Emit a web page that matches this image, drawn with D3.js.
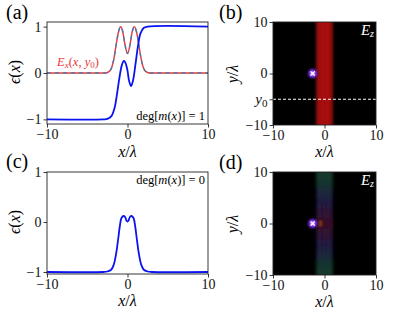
<!DOCTYPE html>
<html>
<head>
<meta charset="utf-8">
<script src="https://cdn.jsdelivr.net/npm/d3@7"></script>
<style>
  body { margin: 0; background: #fff; }
</style>
</head>
<body>
<div id="chart-area"></div>
<script>
// datos
const xTicks = [-10, 0, 10];
const epsTicks = [-1, 0, 1];

// (a) perfil de epsilon, deg = 1
const epsAx = [-10, -3, -2.5, -2.0, -1.6, -1.3, -1.0, -0.7, -0.45, -0.25, 0.0, 0.2, 0.45, 0.7, 1.0, 1.3, 1.6, 2.0, 2.5, 10];
const epsAy = [-1, -1, -0.99, -0.93, -0.75, -0.45, -0.1, 0.17, 0.26, 0.22, 0.05, -0.17, -0.28, -0.15, 0.2, 0.58, 0.85, 0.97, 1.0, 1.0];

// (a) campo E_x(x, y0)
const fieldX = [-10, -2.8, -2.3, -2.0, -1.7, -1.4, -1.1, -0.85, -0.6, -0.3, 0, 0.3, 0.6, 0.85, 1.1, 1.4, 1.7, 2.0, 2.3, 2.8, 10];
const fieldY = [0, 0, 0.03, 0.1, 0.3, 0.62, 0.9, 1.0, 0.9, 0.6, 0.42, 0.6, 0.9, 1.0, 0.9, 0.62, 0.3, 0.1, 0.03, 0, 0];

// (c) perfil de epsilon, deg = 0
const epsCx = [-10, -3, -2.5, -2.0, -1.7, -1.4, -1.15, -0.95, -0.75, -0.5, -0.3, -0.1, 0, 0.1, 0.3, 0.5, 0.75, 0.95, 1.15, 1.4, 1.7, 2.0, 2.5, 3, 10];
const epsCy = [-1, -1, -0.99, -0.95, -0.85, -0.62, -0.33, -0.08, 0.08, 0.12, 0.1, 0.02, 0.01, 0.02, 0.1, 0.12, 0.08, -0.08, -0.33, -0.62, -0.85, -0.95, -0.99, -1, -1];

// mapas de E_z: columnas en x
const colX = [-2.0, -1.75, -1.5, -1.25, -1.0, -0.75, -0.5, -0.25, 0, 0.25, 0.5, 0.75, 1.0, 1.25, 1.5, 1.75, 2.0];
const colB = [0.0, 0.1, 0.45, 0.75, 0.85, 0.75, 0.92, 0.88, 0.78, 0.88, 0.92, 0.78, 0.85, 0.75, 0.45, 0.12, 0.0];
const colD = [0.0, 0.1, 0.55, 0.8, 0.85, 0.8, 0.85, 0.85, 0.8, 0.85, 0.85, 0.8, 0.85, 0.8, 0.55, 0.1, 0.0];
// (d) bandas en y y su color
const bandY = [-10, -8, -6, -4, -2, 0, 2, 4, 6, 8, 10];
const bandColor = ["#1e4c3a", "#1d4439", "#21304a", "#282052", "#3c1842", "#4a1432", "#3c1842", "#282052", "#21304a", "#1d4439", "#1e4c3a"];

const sourceX = -2.3, sourceY = 0;
const y0 = -5;

const FONT = "Liberation Serif";
const width = 415, height = 320;
const svg = d3.select("#chart-area").append("svg")
  .attr("width", width).attr("height", height)
  .attr("font-family", FONT);

const defs = svg.append("defs");
const glow = defs.append("radialGradient").attr("id", "glow");
glow.append("stop").attr("offset", "0%").attr("stop-color", "#ecdcff");
glow.append("stop").attr("offset", "35%").attr("stop-color", "#9a50ff");
glow.append("stop").attr("offset", "70%").attr("stop-color", "#6020c0").attr("stop-opacity", 0.6);
glow.append("stop").attr("offset", "100%").attr("stop-color", "#300080").attr("stop-opacity", 0);
defs.append("filter").attr("id", "blurB").attr("x", "-50%").attr("width", "200%")
  .append("feGaussianBlur").attr("stdDeviation", "1.1 0");
defs.append("filter").attr("id", "blurD").attr("x", "-50%").attr("y", "-20%").attr("width", "200%").attr("height", "140%")
  .append("feGaussianBlur").attr("stdDeviation", "1.2 5");

function axesBox(g, x, y) {
  const [x0, x1] = x.range(), [yb, yt] = y.range();
  g.append("rect").attr("x", x0).attr("y", yt).attr("width", x1 - x0).attr("height", yb - yt)
    .attr("fill", "none").attr("stroke", "#222").attr("stroke-width", 0.9);
}

function ticks(g, x, y, yTicks, yFmt) {
  const ax = g.append("g").attr("transform", `translate(0,${y.range()[0]})`)
    .call(d3.axisBottom(x).tickValues(xTicks).tickSize(3.5).tickPadding(2).tickFormat(d => d < 0 ? "\u2212" + (-d) : d));
  const ay = g.append("g").attr("transform", `translate(${x.range()[0]},0)`)
    .call(d3.axisLeft(y).tickValues(yTicks).tickSize(3.5).tickPadding(2).tickFormat(yFmt));
  [ax, ay].forEach(a => {
    a.attr("font-family", FONT);
    a.select(".domain").remove();
    a.selectAll("line").attr("stroke", "#222").attr("stroke-width", 0.9);
    a.selectAll("text").attr("font-size", 14).attr("fill", "#111");
  });
  return ay;
}

function xLabel(g, x, yPos) {
  const t = g.append("text").attr("x", (x.range()[0] + x.range()[1]) / 2).attr("y", yPos)
    .attr("text-anchor", "middle").attr("font-size", 16);
  t.append("tspan").attr("font-style", "italic").text("x");
  t.append("tspan").text("/");
  t.append("tspan").attr("font-style", "italic").text("\u03bb");
}

function yLabel(g, xPos, yPos, parts) {
  const t = g.append("text").attr("transform", `translate(${xPos},${yPos}) rotate(-90)`)
    .attr("text-anchor", "middle").attr("font-size", 16);
  parts.forEach(p => t.append("tspan").attr("font-style", p[1] ? "italic" : "normal").text(p[0]));
}

function panelLetter(x, y, s) {
  svg.append("text").attr("x", x).attr("y", y).attr("font-size", 20).text(s);
}

function degLabel(g, xr, yb, n) {
  const t = g.append("text").attr("x", xr).attr("y", yb).attr("text-anchor", "end").attr("font-size", 12.5);
  t.append("tspan").text("deg[");
  t.append("tspan").attr("font-style", "italic").text("m");
  t.append("tspan").text("(");
  t.append("tspan").attr("font-style", "italic").text("x");
  t.append("tspan").text(")] = " + n);
}

// ---------- (a) ----------
{
  const x = d3.scaleLinear().domain([-10, 10]).range([47, 208]);
  const y = d3.scaleLinear().domain([-1.1, 1.1]).range([124, 22]);
  const g = svg.append("g");
  const line = d3.line().x(d => x(d[0])).y(d => y(d[1])).curve(d3.curveMonotoneX);
  const field = d3.zip(fieldX, fieldY);
  g.append("path").datum(field).attr("d", line).attr("fill", "none")
    .attr("stroke", "#e8383a").attr("stroke-width", 1.4);
  g.append("path").datum(field).attr("d", line).attr("fill", "none")
    .attr("stroke", "#4f79a8").attr("stroke-width", 1.4).attr("stroke-dasharray", "4,4");
  g.append("path").datum(d3.zip(epsAx, epsAy)).attr("d", line.curve(d3.curveCatmullRom)).attr("fill", "none")
    .attr("stroke", "#0a14f0").attr("stroke-width", 1.8);
  axesBox(g, x, y);
  ticks(g, x, y, epsTicks, d => d < 0 ? "\u2212" + (-d) : d);
  xLabel(g, x, 157);
  yLabel(g, 20, 72, [["\u03f5", true], ["(", false], ["x", true], [")", false]]);
  degLabel(g, 205, 120, 1);
  const t = g.append("text").attr("x", 57).attr("y", 66).attr("font-size", 12.5).attr("fill", "#e8383a");
  t.append("tspan").attr("font-style", "italic").text("E");
  t.append("tspan").attr("font-style", "italic").attr("font-size", 9).attr("dy", 2).text("x");
  t.append("tspan").attr("dy", -2).text("(");
  t.append("tspan").attr("font-style", "italic").text("x");
  t.append("tspan").text(", ");
  t.append("tspan").attr("font-style", "italic").text("y");
  t.append("tspan").attr("font-size", 9).attr("dy", 2).text("0");
  t.append("tspan").attr("dy", -2).text(")");
  panelLetter(6, 19, "(a)");
}

// ---------- (c) ----------
{
  const x = d3.scaleLinear().domain([-10, 10]).range([47, 208]);
  const y = d3.scaleLinear().domain([-1.04, 1.0]).range([274, 172]);
  const g = svg.append("g");
  const line = d3.line().x(d => x(d[0])).y(d => y(d[1])).curve(d3.curveCatmullRom);
  g.append("path").datum(d3.zip(epsCx, epsCy)).attr("d", line).attr("fill", "none")
    .attr("stroke", "#0a14f0").attr("stroke-width", 1.8);
  axesBox(g, x, y);
  ticks(g, x, y, epsTicks, d => d < 0 ? "\u2212" + (-d) : d);
  xLabel(g, x, 306);
  yLabel(g, 20, 222, [["\u03f5", true], ["(", false], ["x", true], [")", false]]);
  degLabel(g, 205, 184, 0);
  panelLetter(6, 168, "(c)");
}

// ---------- mapas (b) y (d) ----------
function heatmap(top, prof, colored, letter, key) {
  const x = d3.scaleLinear().domain([-10, 10]).range([273, 376]);
  const y = d3.scaleLinear().domain([-10, 10]).range([top + 103, top]);
  const g = svg.append("g");
  const clipId = "clip-" + key;
  defs.append("clipPath").attr("id", clipId).append("rect")
    .attr("x", 273).attr("y", top).attr("width", 103).attr("height", 103);
  g.append("rect").attr("x", 273).attr("y", top).attr("width", 103).attr("height", 103).attr("fill", "#000");
  const cw = x(0.25) - x(0);
  const clipped = g.append("g").attr("clip-path", `url(#${clipId})`);
  const cells = clipped.append("g").attr("filter", colored ? "url(#blurD)" : "url(#blurB)");
  if (!colored) {
    cells.selectAll("rect").data(colX).join("rect")
      .attr("x", (d, i) => x(d) - cw / 2).attr("width", cw + 0.3)
      .attr("y", top - 10).attr("height", 123)
      .attr("fill", (d, i) => d3.interpolateRgb("#000", "#cc1616")(prof[i]));
  } else {
    const cellData = [];
    bandY.forEach((by, j) => colX.forEach((cx, i) => cellData.push({ cx, by, v: prof[i], c: bandColor[j] })));
    const bh = y(0) - y(2);
    cells.selectAll("rect").data(cellData).join("rect")
      .attr("x", d => x(d.cx) - cw / 2).attr("width", cw + 0.3)
      .attr("y", d => y(d.by) - bh / 2).attr("height", bh + 0.3)
      .attr("fill", d => d3.interpolateRgb("#000", d.c)(d.v));
    // mancha naranja junto a la fuente
    clipped.append("ellipse").attr("cx", x(-0.8)).attr("cy", y(0)).attr("rx", 1.5).attr("ry", 3.5)
      .attr("fill", "#8a3a08").attr("filter", "url(#blurB)");
  }
  // fuente
  g.append("circle").attr("cx", x(sourceX)).attr("cy", y(sourceY)).attr("r", 6.5).attr("fill", "url(#glow)");
  g.append("path").attr("d", d3.symbol(d3.symbolX, 14)())
    .attr("transform", `translate(${x(sourceX)},${y(sourceY)})`)
    .attr("stroke", "#fff").attr("stroke-width", 1.2).attr("fill", "none");
  if (!colored) {
    g.append("line").attr("x1", x(-10)).attr("x2", x(10)).attr("y1", y(y0)).attr("y2", y(y0))
      .attr("stroke", "#fff").attr("stroke-width", 1).attr("stroke-dasharray", "3,2");
  }
  axesBox(g, x, y);
  const ay = ticks(g, x, y, colored ? [-10, 0, 10] : [-10, y0, 0, 10],
    d => d === y0 ? "" : (d < 0 ? "\u2212" + (-d) : d));
  if (!colored) {
    const t = ay.selectAll("text").filter(d => d === y0);
    t.append("tspan").attr("font-style", "italic").attr("font-size", 15).text("y");
    t.append("tspan").attr("font-size", 11).attr("dy", 3).text("0");
  }
  xLabel(g, x, top + 135);
  yLabel(g, 238, top + 52, [["y", true], ["/", false], ["\u03bb", true]]);
  const e = g.append("text").attr("x", 374).attr("y", top + 13).attr("text-anchor", "end")
    .attr("font-size", 15).attr("fill", "#fff");
  e.append("tspan").attr("font-style", "italic").text("E");
  e.append("tspan").attr("font-style", "italic").attr("font-size", 10).attr("dy", 2).text("z");
  panelLetter(219, top - 3, letter);
}
heatmap(22, colB, false, "(b)", "b");
heatmap(172, colD, true, "(d)", "d");

// fuente serif en todos los textos
svg.selectAll("text").style("font-family", FONT);
</script>
</body>
</html>
